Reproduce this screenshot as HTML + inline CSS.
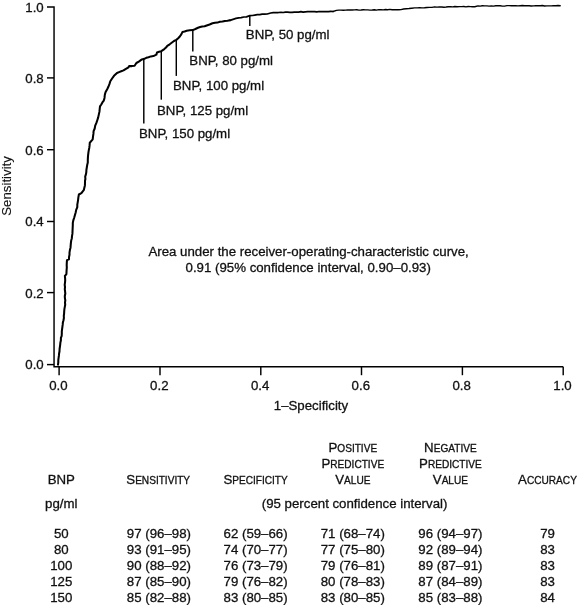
<!DOCTYPE html>
<html lang="en"><head><meta charset="utf-8"><title>ROC curve for BNP</title>
<style>
html,body{margin:0;padding:0;background:#fff}
svg{display:block}
.t text{font-family:"Liberation Sans",Arial,Helvetica,sans-serif;fill:#111;stroke:#111;stroke-width:0.3px}
.sc{font-size:10.1px;text-transform:uppercase}
</style></head><body>
<svg width="577" height="605" viewBox="0 0 577 605">
<g fill="none" stroke="#000" stroke-width="1.45">
<path d="M47,6.9 H54.05 V366.8 H563.2 "/>
<path d="M47,77.9 H54.05"/>
<path d="M47,149.7 H54.05"/>
<path d="M47,221.5 H54.05"/>
<path d="M47,292.6 H54.05"/>
<path d="M47,364.6 H54.05"/>
<path d="M59.1,366.8 V375.2"/>
<path d="M160.0,366.8 V375.2"/>
<path d="M260.8,366.8 V375.2"/>
<path d="M361.5,366.8 V375.2"/>
<path d="M462.4,366.8 V375.2"/>
<path d="M563.2,366.8 V375.2"/>
<path d="M143.8,59 V123.5"/>
<path d="M161.3,51.2 V99.7"/>
<path d="M176.3,39.9 V75.9"/>
<path d="M192.8,29.8 V51.6"/>
<path d="M249.8,15.7 V26"/>
</g>
<g fill="none" stroke="#000" stroke-linejoin="round" stroke-linecap="round"><path d="M58.0,364.6 L58.3,362.4 L58.3,360.1 L58.6,357.9 L58.9,355.7 L59.1,353.5 L59.5,351.3 L59.6,349.0 L59.9,346.8 L60.2,344.6 L60.4,342.4 L60.9,340.2 L60.9,337.9 L61.7,335.8 L61.8,333.5 L61.8,331.3 L62.1,329.1 L62.4,326.9 L62.7,324.7 L62.9,322.4 L63.5,320.3 L63.9,318.0 L63.8,315.8 L64.1,313.6 L64.2,311.3 L64.4,309.1 L64.8,306.9 L65.2,304.7 L65.0,302.5 L65.3,300.3 L64.9,298.1 L64.8,295.9 L65.3,293.7 L65.1,291.5 L64.8,289.2 L65.0,287.0 L64.7,284.8 L65.0,282.6 L65.2,280.4 L65.1,278.2 L64.9,276.0 L66.4,274.2 L66.6,270.0 L66.8,267.5 L66.7,265.0 L66.8,262.6 L67.0,260.1 L69.0,259.3 L69.0,257.1 L69.5,254.8 L69.5,252.6 L69.9,250.1 L70.5,247.7 L70.7,245.2 L70.9,242.9 L71.2,240.6 L71.8,238.4 L72.0,236.1 L72.4,233.9 L72.5,231.7 L72.6,229.5 L72.7,227.3 L72.8,225.1 L72.8,222.9 L73.3,220.4 L74.1,218.0 L74.8,215.5 L75.6,212.7 L76.2,209.9 L77.3,207.2 L77.3,204.7 L77.7,202.3 L78.1,199.8 L78.4,197.1 L78.9,194.5 L81.4,193.1 L83.9,189.8 L84.4,187.6 L84.9,185.4 L85.0,183.2 L85.0,181.0 L85.4,178.8 L85.2,176.6 L85.9,174.4 L86.3,172.2 L86.4,170.0 L86.8,167.5 L87.2,165.0 L87.8,162.6 L87.8,160.1 L87.9,157.6 L88.1,155.1 L88.4,152.6 L88.8,150.1 L89.3,147.7 L89.6,145.2 L89.8,142.7 L92.7,139.4 L93.0,136.7 L93.4,133.9 L93.6,131.2 L94.7,128.5 L95.2,125.6 L96.4,122.9 L97.3,120.2 L98.2,117.4 L98.8,114.6 L99.4,111.9 L99.7,109.2 L100.0,106.4 L101.3,104.5 L102.4,102.4 L103.8,100.6 L104.5,97.9 L104.8,95.0 L105.5,92.3 L107.3,89.0 L108.5,86.5 L109.5,83.9 L110.3,81.2 L112.1,78.5 L114.0,75.8 L117.0,73.0 L119.1,72.1 L121.2,71.3 L123.5,70.4 L125.5,69.1 L128.5,67.3 L129.1,66.1 L131.9,66.1 L134.6,65.8 L136.4,63.0 L138.8,61.6 L141.9,59.4 L144.3,58.8 L146.3,57.8 L148.5,57.2 L150.9,56.4 L153.4,56.1 L156.4,54.6 L157.0,52.5 L159.1,51.7 L161.3,51.2 L164.3,49.1 L166.0,47.6 L167.3,45.8 L169.7,44.3 L172.0,42.5 L174.0,41.0 L176.3,39.9 L178.2,38.3 L179.8,36.5 L181.3,34.4 L182.4,32.1 L184.6,31.5 L186.7,30.7 L189.7,30.3 L192.8,30.1 L195.4,29.0 L198.0,27.8 L200.1,27.0 L202.3,26.4 L204.6,26.3 L206.7,25.5 L209.6,24.5 L212.5,23.3 L215.0,22.8 L217.5,22.6 L219.9,21.8 L222.5,21.6 L224.9,20.9 L227.5,20.8 L230.0,20.3" stroke-width="2.05"/><path d="M230.0,20.3 L233.0,19.3 L236.0,18.4 L238.6,17.8 L241.2,17.7 L243.8,17.0 L246.4,16.9 L249.9,15.7 L252.4,15.5 L254.8,15.1 L257.3,14.7 L259.8,14.7 L262.2,14.2 L264.7,14.2 L267.2,14.0 L270.7,13.0 L273.3,12.6 L275.8,12.5 L278.4,12.5 L281.0,12.4 L283.2,12.5 L285.4,12.1 L287.6,12.1 L289.8,12.3 L292.1,12.4 L294.3,12.1 L296.5,12.0 L298.7,12.2 L300.9,11.7 L303.1,12.1 L305.3,11.8 L307.6,11.7 L309.9,11.6 L312.2,11.5 L314.5,11.6 L316.8,11.9 L319.1,11.5 L321.5,11.7 L323.8,11.7 L326.1,11.5 L328.4,11.6 L330.7,11.3 L333.0,11.5" stroke-width="1.75"/><path d="M333.0,11.5 L336.5,10.4 L338.7,10.1 L341.0,10.1 L343.3,10.3 L345.5,10.1 L347.7,10.0 L350.0,10.0 L352.2,10.0 L354.4,9.9 L356.7,9.8 L358.9,10.1 L361.1,10.0 L363.3,9.8 L365.5,9.9 L367.7,9.9 L370.0,10.1 L372.2,10.0 L374.4,9.7 L376.6,10.1 L378.8,9.6 L381.0,9.7 L383.3,9.9 L385.5,9.5 L387.7,9.7 L389.9,9.4 L392.1,9.8 L394.3,9.8 L396.6,9.7 L398.8,9.8 L401.0,9.6 L403.6,9.0 L406.2,8.7 L409.0,8.5 L411.8,8.2 L414.6,7.9 L417.1,7.9 L419.6,7.7 L422.0,7.9 L424.5,7.8 L427.0,7.5 L429.5,7.4 L432.0,7.4 L434.5,6.9 L437.0,7.1 L439.5,6.9 L441.7,7.0 L443.9,7.2 L446.1,7.0 L448.3,6.7 L450.5,6.8 L452.7,6.9 L454.9,6.5 L457.1,6.8 L459.4,6.6 L461.6,6.6 L463.8,6.5 L466.0,6.9 L468.2,6.5 L470.4,6.6 L472.6,6.7 L474.8,6.7 L478.0,5.9 L480.2,6.1 L482.4,5.7 L484.7,5.9 L486.9,5.9 L489.1,6.1 L491.3,6.0 L493.6,6.1 L495.8,5.7 L498.0,5.8 L500.2,5.8 L502.4,6.1 L504.7,6.1 L506.9,5.6 L509.1,5.6 L511.3,5.7 L513.5,5.7 L515.8,5.8 L518.0,5.9 L520.2,5.7 L522.4,5.5 L524.7,5.7 L526.9,5.7 L529.1,5.8 L531.3,6.0 L533.5,5.9 L535.8,5.8 L538.0,5.8 L540.2,5.8 L542.4,5.5 L544.6,6.0 L546.9,5.9 L549.1,5.9 L551.3,5.9 L553.5,5.7 L555.8,5.7 L558.0,5.5 L560.2,5.7" stroke-width="1.4"/></g>
<g class="t" font-size="13.25">
<text x="43.7" y="12" text-anchor="end">1.0</text>
<text x="43.7" y="83" text-anchor="end">0.8</text>
<text x="43.7" y="155" text-anchor="end">0.6</text>
<text x="43.7" y="226" text-anchor="end">0.4</text>
<text x="43.7" y="298" text-anchor="end">0.2</text>
<text x="43.7" y="369" text-anchor="end">0.0</text>
<text x="58.4" y="389.9" text-anchor="middle">0.0</text>
<text x="159.3" y="389.9" text-anchor="middle">0.2</text>
<text x="260.1" y="389.9" text-anchor="middle">0.4</text>
<text x="360.8" y="389.9" text-anchor="middle">0.6</text>
<text x="461.7" y="389.9" text-anchor="middle">0.8</text>
<text x="562.5" y="389.9" text-anchor="middle">1.0</text>
<text transform="translate(10.8,185.9) rotate(-90)" text-anchor="middle" style="stroke-width:0.12px">Sensitivity</text>
<text x="311" y="410.1" text-anchor="middle">1–Specificity</text>
<text x="139.0" y="138">BNP, 150 pg/ml</text>
<text x="157.0" y="114.6">BNP, 125 pg/ml</text>
<text x="173.0" y="89.9">BNP, 100 pg/ml</text>
<text x="189.3" y="65.4">BNP, 80 pg/ml</text>
<text x="245.8" y="38.9">BNP, 50 pg/ml</text>
<text x="308.6" y="256" text-anchor="middle">Area under the receiver-operating-characteristic curve,</text>
<text x="308.2" y="272" text-anchor="middle">0.91 (95% confidence interval, 0.90–0.93)</text>
<text x="61.3" y="484" text-anchor="middle">BNP</text>
<text x="61.3" y="508" text-anchor="middle">pg/ml</text>
<text x="158.20000000000002" y="484" text-anchor="middle">S<tspan class="sc">ensitivity</tspan></text>
<text x="255.6" y="484" text-anchor="middle">S<tspan class="sc">pecificity</tspan></text>
<text x="352.8" y="452" text-anchor="middle">P<tspan class="sc">ositive</tspan></text>
<text x="352.8" y="468" text-anchor="middle">P<tspan class="sc">redictive</tspan></text>
<text x="352.8" y="484" text-anchor="middle">V<tspan class="sc">alue</tspan></text>
<text x="450.4" y="452" text-anchor="middle">N<tspan class="sc">egative</tspan></text>
<text x="450.4" y="468" text-anchor="middle">P<tspan class="sc">redictive</tspan></text>
<text x="450.4" y="484" text-anchor="middle">V<tspan class="sc">alue</tspan></text>
<text x="547.5" y="484" text-anchor="middle">A<tspan class="sc">ccuracy</tspan></text>
<text x="354.6" y="508" text-anchor="middle">(95 percent confidence interval)</text>
<text x="61.3" y="538.0" text-anchor="middle">50</text>
<text x="158.9" y="538.0" text-anchor="middle">97 (96–98)</text>
<text x="255.6" y="538.0" text-anchor="middle">62 (59–66)</text>
<text x="352.8" y="538.0" text-anchor="middle">71 (68–74)</text>
<text x="450.4" y="538.0" text-anchor="middle">96 (94–97)</text>
<text x="547.5" y="538.0" text-anchor="middle">79</text>
<text x="61.3" y="554.0" text-anchor="middle">80</text>
<text x="158.9" y="554.0" text-anchor="middle">93 (91–95)</text>
<text x="255.6" y="554.0" text-anchor="middle">74 (70–77)</text>
<text x="352.8" y="554.0" text-anchor="middle">77 (75–80)</text>
<text x="450.4" y="554.0" text-anchor="middle">92 (89–94)</text>
<text x="547.5" y="554.0" text-anchor="middle">83</text>
<text x="61.3" y="570.0" text-anchor="middle">100</text>
<text x="158.9" y="570.0" text-anchor="middle">90 (88–92)</text>
<text x="255.6" y="570.0" text-anchor="middle">76 (73–79)</text>
<text x="352.8" y="570.0" text-anchor="middle">79 (76–81)</text>
<text x="450.4" y="570.0" text-anchor="middle">89 (87–91)</text>
<text x="547.5" y="570.0" text-anchor="middle">83</text>
<text x="61.3" y="586.0" text-anchor="middle">125</text>
<text x="158.9" y="586.0" text-anchor="middle">87 (85–90)</text>
<text x="255.6" y="586.0" text-anchor="middle">79 (76–82)</text>
<text x="352.8" y="586.0" text-anchor="middle">80 (78–83)</text>
<text x="450.4" y="586.0" text-anchor="middle">87 (84–89)</text>
<text x="547.5" y="586.0" text-anchor="middle">83</text>
<text x="61.3" y="602.0" text-anchor="middle">150</text>
<text x="158.9" y="602.0" text-anchor="middle">85 (82–88)</text>
<text x="255.6" y="602.0" text-anchor="middle">83 (80–85)</text>
<text x="352.8" y="602.0" text-anchor="middle">83 (80–85)</text>
<text x="450.4" y="602.0" text-anchor="middle">85 (83–88)</text>
<text x="547.5" y="602.0" text-anchor="middle">84</text>
</g></svg>
</body></html>
